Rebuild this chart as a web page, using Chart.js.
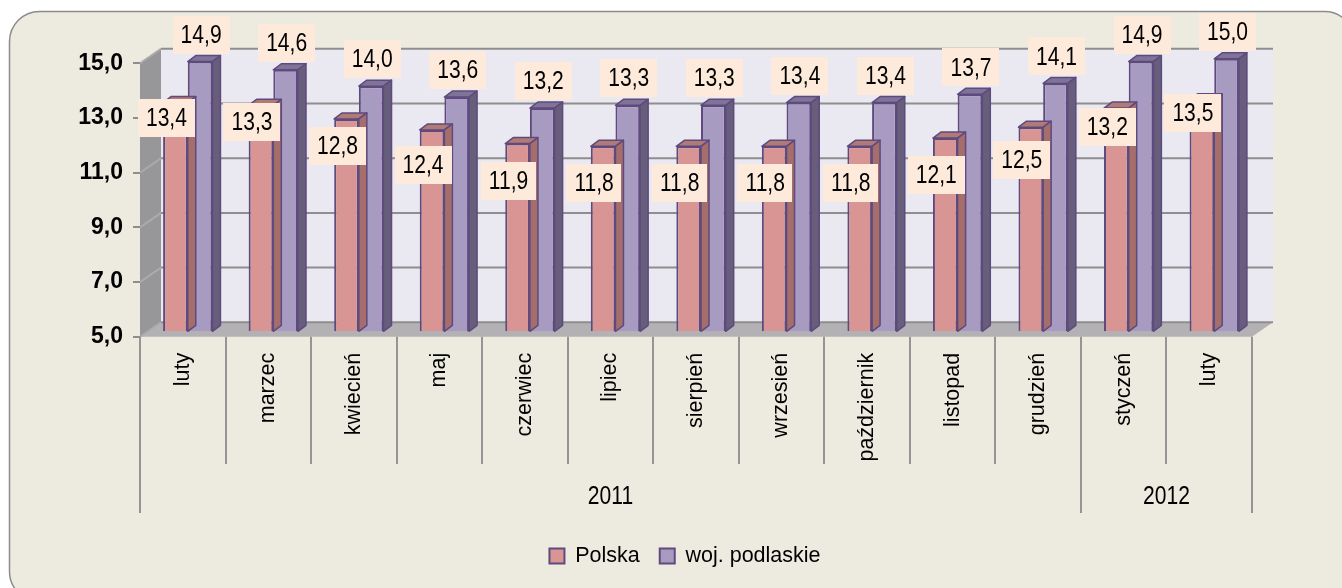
<!DOCTYPE html>
<html><head><meta charset="utf-8">
<script src="https://cdn.jsdelivr.net/npm/chart.js@4.4.0/dist/chart.umd.min.js"></script>
<style>html,body{margin:0;padding:0;background:#fff;overflow:hidden}</style>
</head><body>
<canvas id="c" width="1342" height="588"></canvas>
<script>
// ---- data ----
const categories = ['luty','marzec','kwiecień','maj','czerwiec','lipiec','sierpień','wrzesień','październik','listopad','grudzień','styczeń','luty'];
const years = ['2011','2012'];
const yearSpans = [11, 2];
const seriesNames = ['Polska','woj. podlaskie'];
const polska = [13.4,13.3,12.8,12.4,11.9,11.8,11.8,11.8,11.8,12.1,12.5,13.2,13.5];
const podlaskie = [14.9,14.6,14.0,13.6,13.2,13.3,13.3,13.4,13.4,13.7,14.1,14.9,15.0];
const yMin = 5, yMax = 15, yStep = 2;

// ---- style ----
const REG = "'Liberation Sans', Arial, sans-serif";
const NARROW_X = 0.81;       // horizontal squeeze to imitate a narrow face
const LABEL_SIZE = 26;
const BX = 5, BY = -4.5;     // bar plane offset from front plane
const WX = 21, WY = -14.5;   // back wall offset
const DX = 8, DY = -6;       // bar depth
const COLORS = [
  {front:'#D99594', top:'#B27A74', side:'#A66E6B'},
  {front:'#A89BC2', top:'#7F7498', side:'#675E7C'}
];
const BORDER = '#5E4A7E';
const fmt = v => v.toFixed(1).replace('.', ',');

const PAD = {left:73, right:45, top:63.3, bottom:11.25};
const RIGHT_GAP = 45;        // empty room right of the plot (keeps legend centred like the original)
const LEG_FONT = 21.5, LEG_PAD = 20;
const LEG_H = LEG_FONT + LEG_PAD + 10;
const FRONT_BOTTOM = 336.8;

function rr(ctx, x, y, w, h, r){
  ctx.beginPath();
  ctx.moveTo(x+r,y); ctx.lineTo(x+w-r,y); ctx.arcTo(x+w,y,x+w,y+r,r);
  ctx.lineTo(x+w,y+h-r); ctx.arcTo(x+w,y+h,x+w-r,y+h,r);
  ctx.lineTo(x+r,y+h); ctx.arcTo(x,y+h,x,y+h-r,r);
  ctx.lineTo(x,y+r); ctx.arcTo(x,y,x+r,y,r); ctx.closePath();
}
function poly(ctx, pts, fill, stroke, lw){
  ctx.beginPath(); ctx.moveTo(pts[0][0],pts[0][1]);
  for (let i=1;i<pts.length;i++) ctx.lineTo(pts[i][0],pts[i][1]);
  ctx.closePath();
  if (fill){ctx.fillStyle=fill; ctx.fill();}
  if (stroke){ctx.strokeStyle=stroke; ctx.lineWidth=lw||1; ctx.stroke();}
}
function narrowText(ctx, txt, x, y){
  ctx.save(); ctx.translate(x, y); ctx.scale(NARROW_X, 1); ctx.fillText(txt, 0, 0); ctx.restore();
}

const scene = {
  id:'scene',
  beforeDraw(chart){
    const ctx = chart.ctx;
    const {left,right,top,bottom} = chart.chartArea;
    const ys = chart.scales.y, xs = chart.scales.x;
    ctx.save();
    ctx.fillStyle='#fff'; ctx.fillRect(0,0,chart.width,chart.height);
    rr(ctx, 9.5, 11.5, 1345, 590, 30);
    ctx.fillStyle='#EDEBE0'; ctx.fill();
    ctx.strokeStyle='#8C8C8C'; ctx.lineWidth=1.5; ctx.stroke();
    // back wall
    poly(ctx, [[left+WX,top+WY],[right+WX,top+WY],[right+WX,bottom+WY],[left+WX,bottom+WY]], '#EAE8F0');
    // side wall
    poly(ctx, [[left,top],[left+WX,top+WY],[left+WX,bottom+WY],[left,bottom]], '#979699');
    // floor
    poly(ctx, [[left,bottom],[right,bottom],[right+WX,bottom+WY],[left+WX,bottom+WY]], '#B4B1B5');
    // gridlines
    ctx.lineWidth = 2;
    for (let v=yMin; v<=yMax; v+=yStep){
      const y = ys.getPixelForValue(v);
      ctx.strokeStyle='#8E8E8E';
      ctx.beginPath(); ctx.moveTo(left+WX, y+WY); ctx.lineTo(right+WX, y+WY); ctx.stroke();
      ctx.strokeStyle='#ABABAB';
      ctx.beginPath(); ctx.moveTo(left, y); ctx.lineTo(left+WX, y+WY); ctx.stroke();
    }
    // category separators and group labels
    const step = xs.getPixelForValue(1) - xs.getPixelForValue(0);
    const x0 = xs.getPixelForValue(0) - step/2;
    const groupB = [0]; yearSpans.forEach(s => groupB.push(groupB[groupB.length-1]+s));
    ctx.strokeStyle='#959595'; ctx.lineWidth=2;
    for (let i=0;i<=categories.length;i++){
      const x = Math.round(x0 + i*step);
      const isGroup = groupB.includes(i);
      ctx.beginPath(); ctx.moveTo(x, bottom); ctx.lineTo(x, isGroup ? 513 : 464); ctx.stroke();
    }
    ctx.fillStyle='#000'; ctx.font = LABEL_SIZE+'px '+REG; ctx.textAlign='center'; ctx.textBaseline='middle';
    years.forEach((yr,g) => {
      const xa = x0 + groupB[g]*step, xb = x0 + groupB[g+1]*step;
      narrowText(ctx, yr, (xa+xb)/2, 497);
    });
    ctx.restore();
  },
  beforeDatasetDraw(chart, args){
    const ctx = chart.ctx;
    const meta = chart.getDatasetMeta(args.index);
    const c = COLORS[args.index];
    ctx.save();
    ctx.translate(BX, BY);
    ctx.lineJoin = 'round';
    meta.data.forEach(el => {
      const l = el.x - el.width/2, r = el.x + el.width/2, t = el.y, b = el.base;
      poly(ctx, [[l,t],[r,t],[r+DX,t+DY],[l+DX,t+DY]], c.top, BORDER, 1.5);
      poly(ctx, [[r,t],[r+DX,t+DY],[r+DX,b+DY],[r,b]], c.side, BORDER, 1.5);
    });
  },
  afterDatasetDraw(chart){ chart.ctx.restore(); },
  afterDatasetsDraw(chart){
    const ctx = chart.ctx;
    ctx.save();
    ctx.font = LABEL_SIZE+'px '+REG; ctx.textAlign='center'; ctx.textBaseline='middle';
    chart.data.datasets.forEach((ds, di) => {
      const meta = chart.getDatasetMeta(di);
      meta.data.forEach((el, i) => {
        const v = ds.data[i];
        const txt = fmt(v);
        const barTop = el.y + BY;
        let cx, cy;
        if (di === 0){ cx = el.x + BX - 9; cy = barTop + Math.min(37, 37 - (v - 12.3)*20); }
        else { cx = el.x + BX + 1; cy = barTop - 27; }
        const w = ctx.measureText(txt).width*NARROW_X + 16, h = 38;
        ctx.fillStyle = '#FDEADA';
        ctx.fillRect(Math.round(cx - w/2), Math.round(cy - h/2), Math.round(w), h);
        ctx.fillStyle = '#000';
        narrowText(ctx, txt, cx, cy + 1);
      });
    });
    ctx.restore();
  }
};

new Chart(document.getElementById('c'), {
  type:'bar',
  data:{
    labels: categories,
    datasets:[
      {label: seriesNames[0], data: polska, base: yMin, backgroundColor: COLORS[0].front, borderColor: BORDER, borderWidth: 2, clip: false},
      {label: seriesNames[1], data: podlaskie, base: yMin, backgroundColor: COLORS[1].front, borderColor: BORDER, borderWidth: 2, clip: false}
    ]
  },
  options:{
    responsive:false, animation:false, devicePixelRatio:1,
    categoryPercentage: 0.577, barPercentage: 1,
    layout:{ padding: PAD },
    plugins:{
      legend:{ position:'bottom',
        labels:{ boxWidth:15, boxHeight:15, padding:LEG_PAD, color:'#000', font:{family:REG, size:LEG_FONT} } },
      tooltip:{enabled:false}
    },
    scales:{
      x:{
        grid:{display:false, drawTicks:false}, border:{display:false},
        ticks:{ minRotation:90, maxRotation:90, autoSkip:false, padding:16, color:'#000', font:{family:REG, size:21.5} },
        afterFit(s){ s.height = 588 - PAD.bottom - LEG_H - FRONT_BOTTOM; }
      },
      y:{
        min:yMin, max:yMax,
        grid:{drawOnChartArea:false, drawTicks:true, tickLength:7, color:'#8E8E8E', lineWidth:2},
        border:{display:false},
        ticks:{ stepSize:yStep, padding:10, color:'#000', font:{family:REG, size:23, weight:'bold'}, callback: v => fmt(v) },
        afterFit(s){ s.width = 140 - PAD.left; }
      },
      gap:{
        position:'right', display:true,
        grid:{display:false, drawTicks:false}, border:{display:false}, ticks:{display:false},
        afterFit(s){ s.width = RIGHT_GAP; }
      }
    }
  },
  plugins:[scene]
});
</script>
</body></html>
